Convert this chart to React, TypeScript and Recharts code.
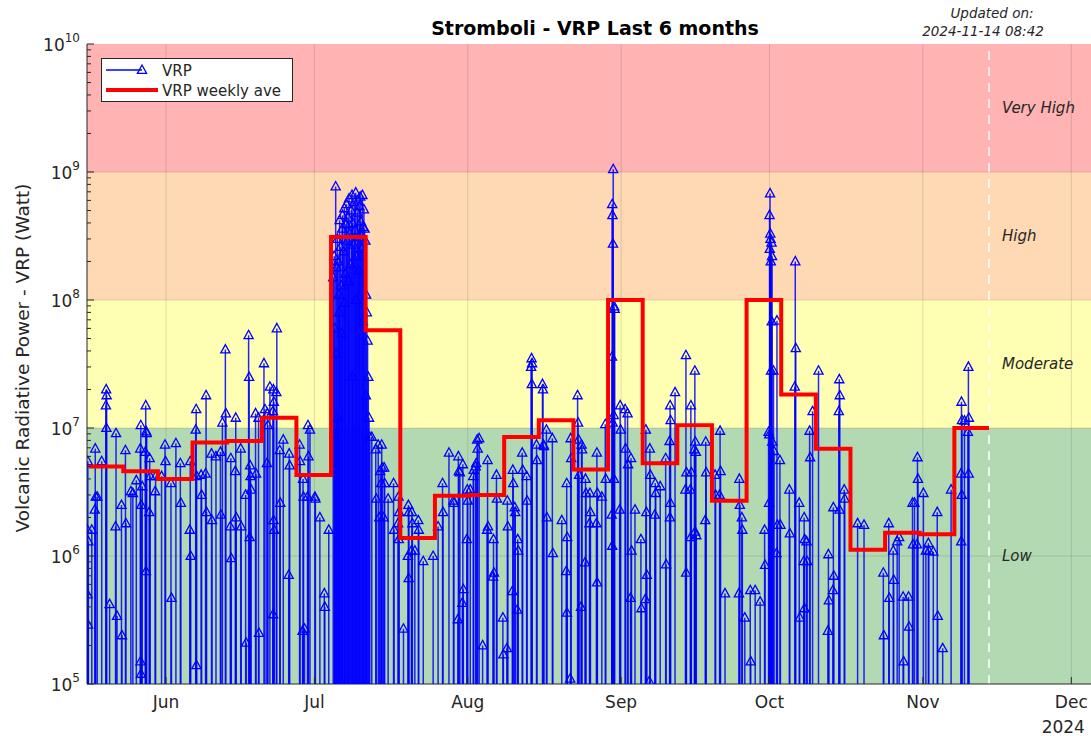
import {
  ComposedChart,
  Scatter,
  Line,
  XAxis,
  YAxis,
  ReferenceArea,
  ReferenceLine,
  Legend,
} from "recharts";

// x values are days since 2024-06-01
const FONT = "DejaVu Sans, Verdana, sans-serif";
const AXIS = "#262626";
const WIDTH = 1091;
const HEIGHT = 736;
const MARGIN = { top: 44, right: 0, bottom: 22, left: 0 };
const X_AXIS_H = 30;
const Y_AXIS_W = 87;
const PLOT_BOTTOM = HEIGHT - MARGIN.bottom - X_AXIS_H;

const xDomain = [-15.97, 186.98];
const monthTicks = [0, 30, 61, 92, 122, 153, 183];
const monthLabels = ["Jun", "Jul", "Aug", "Sep", "Oct", "Nov", "Dec"];
const yearLabel = "2024";
const decades = [1e5, 1e6, 1e7, 1e8, 1e9, 1e10];
const minorMantissa = [2, 3, 4, 5, 6, 7, 8, 9];
const updatedDay = 166.36;

const bands = [
  { from: 1e9, to: 1e10, fill: "#ffb3b3", label: "Very High" },
  { from: 1e8, to: 1e9, fill: "#ffd9b3", label: "High" },
  { from: 1e7, to: 1e8, fill: "#ffffb3", label: "Moderate" },
  { from: 1e5, to: 1e7, fill: "#b3d9b3", label: "Low" },
];

// VRP detections [day, watt]
const mayJunPoints: [number, number][] = [
  [-15.8, 5.5e6], [-15.9, 1.6e6], [-15.7, 1.3e6], [-15.85, 5.0e5], [-15.75, 2.9e5],
  [-15.0, 1.6e6], [-14.3, 6.9e6], [-14.2, 2.9e6], [-14.4, 2.3e6], [-13.9, 2.9e6],
  [-13.0, 5.5e6], [-12.1, 2.0e7], [-12.0, 1.8e7], [-12.15, 1.5e7], [-12.05, 1.0e7],
  [-11.4, 4.2e5], [-10.1, 9.1e6], [-10.2, 1.7e6], [-9.9, 3.4e5], [-9.0, 2.5e6],
  [-8.9, 2.4e5], [-8.2, 6.7e6], [-8.1, 1.8e6], [-7.1, 3.2e6], [-6.7, 3.1e6],
  [-6.0, 3.9e6], [-5.1, 1.05e7], [-5.2, 6.9e6], [-5.0, 2.5e6], [-5.15, 1.5e5],
  [-5.05, 1.2e5], [-4.8, 3.5e6], [-4.1, 1.5e7], [-4.0, 9.4e6], [-4.2, 6.5e6],
  [-4.05, 7.6e5], [-3.9, 9.1e6], [-3.3, 5.8e6], [-3.2, 4.2e6], [-3.4, 2.2e6],
  [-2.2, 3.2e6], [-2.1, 4.2e6], [-0.9, 4.2e6], [-0.2, 7.4e6], [-0.1, 5.5e6],
  [1.0, 3.7e6], [1.1, 4.7e5], [2.0, 7.6e6], [2.9, 5.3e6], [3.0, 2.6e6],
  [4.9, 5.5e6], [4.8, 1.6e6], [5.0, 1.0e6], [6.1, 1.4e7], [6.0, 9.7e6],
  [6.2, 4.2e6], [6.15, 1.4e5], [7.1, 4.3e6], [7.2, 3.0e6], [8.1, 1.8e7],
  [8.0, 4.4e6], [8.2, 2.2e6], [9.2, 6.3e6], [9.3, 1.9e6], [10.1, 6.0e6],
  [11.0, 6.5e6], [11.1, 2.1e6], [11.4, 1.1e7], [12.0, 4.1e7], [12.1, 1.3e7],
  [13.1, 5.8e6], [13.0, 1.7e6], [13.2, 9.6e5], [14.1, 1.2e7], [14.0, 4.6e6],
  [14.2, 2.0e6], [15.1, 6.9e6], [15.2, 1.7e6], [16.1, 3.0e6], [16.2, 2.1e5],
  [16.7, 5.3e7], [16.8, 2.5e7], [17.0, 5.1e6], [17.1, 4.2e6], [17.2, 3.3e6],
  [16.9, 1.4e6], [18.1, 1.3e7], [18.2, 4.4e6], [18.7, 1.2e7], [18.8, 2.5e5],
  [19.8, 3.2e7], [20.0, 1.4e7], [20.5, 1.3e7], [20.6, 1.05e7], [20.4, 5.3e6],
  [21.0, 2.1e7], [21.7, 2.0e7], [21.8, 1.6e7], [21.6, 1.35e7], [21.75, 1.9e6],
  [21.85, 1.6e6], [21.65, 3.5e5], [22.4, 6.0e7], [22.3, 1.9e7], [23.0, 6.7e6],
  [23.1, 2.6e6], [23.7, 8.1e6], [24.9, 6.3e6], [25.0, 5.1e6], [24.8, 7.1e5],
  [27.0, 7.4e6], [27.1, 5.5e6], [27.7, 4.0e6], [27.8, 2.9e6], [27.6, 2.6e5],
  [28.0, 2.7e5], [28.7, 1.05e7], [28.8, 6.0e6], [28.6, 2.9e6], [29.1, 9.7e6],
  [30.1, 2.9e6], [30.2, 2.8e6], [31.1, 2.0e6], [32.0, 5.1e5], [32.1, 4.0e5],
  [32.9, 1.6e6],
];

const julyBurst: [number, number][] = [
  [33.8, 1.5e8], [34.0, 2.2e8], [34.15, 9.0e6], [34.3, 7.7e8], [34.5, 1.8e8],
  [34.65, 3.0e8], [34.8, 2.0e8], [34.95, 1.1e8], [35.1, 4.2e8], [35.25, 2.6e8],
  [35.4, 1.3e8], [35.6, 3.6e8], [35.7, 4.6e8], [35.9, 2.4e8], [36.05, 5.2e8],
  [36.2, 1.6e8], [36.35, 3.9e8], [36.5, 5.6e8], [36.65, 2.9e8], [36.8, 4.4e8],
  [37.0, 6.2e8], [37.1, 3.3e8], [37.3, 1.9e8], [37.45, 5.0e8], [37.6, 6.6e8],
  [37.75, 4.0e8], [37.9, 2.7e8], [38.05, 5.8e8], [38.2, 3.5e8], [38.35, 6.9e8],
  [38.5, 2.2e8], [38.65, 4.8e8], [38.8, 6.0e8], [38.95, 3.1e8], [39.1, 5.4e8],
  [39.25, 6.4e8], [39.4, 4.1e8], [39.55, 2.5e8], [39.7, 6.6e8], [39.85, 3.7e8],
  [40.0, 5.1e8], [40.15, 3.6e8], [40.3, 2.9e8], [40.45, 1.1e8], [40.6, 8.0e7],
  [40.75, 4.8e7], [40.9, 2.5e7], [41.05, 1.2e7], [41.2, 8.5e6],
  [34.1, 6.0e7], [34.4, 3.8e7], [34.7, 1.2e7], [35.0, 8.0e7], [35.5, 5.5e7],
  [36.1, 9.5e7], [36.9, 1.4e8], [37.7, 2.5e7], [38.4, 1.0e8], [39.0, 1.7e8],
  [39.8, 6.8e7], [40.4, 1.8e7],
];

const julAugPoints: [number, number][] = [
  [41.6, 8.5e6], [42.4, 6.8e6], [42.9, 7.4e6], [43.3, 4.6e6], [42.5, 2.8e6], [43.1, 2.0e6],
  [43.6, 7.4e6], [43.7, 4.9e6], [43.5, 3.7e6], [44.1, 4.9e6], [44.2, 3.7e6],
  [44.0, 2.0e6], [44.9, 2.8e6], [46.0, 3.7e6], [46.1, 1.6e6], [47.0, 2.9e6],
  [47.1, 2.2e6], [46.9, 1.8e6], [47.05, 1.35e6], [48.0, 2.7e5], [49.0, 2.5e6],
  [49.1, 2.2e6], [48.9, 1.0e6], [49.05, 6.7e5], [49.7, 2.2e6], [49.8, 1.8e6],
  [49.6, 1.1e6], [50.3, 1.1e6], [51.0, 1.9e6], [51.1, 1.6e6], [52.0, 9.1e5],
  [54.0, 1.0e6], [55.0, 1.7e6], [55.9, 3.7e6], [56.0, 2.2e6], [57.2, 6.4e6],
  [58.1, 2.7e6], [58.2, 2.6e6], [59.1, 6.0e6], [59.2, 4.6e6], [59.0, 3.2e5],
  [59.4, 4.5e6], [60.0, 5.2e6], [60.1, 5.5e5], [59.9, 4.3e5], [60.9, 3.3e6],
  [61.0, 2.7e6], [60.8, 1.35e6], [61.5, 3.3e6], [62.1, 4.2e6], [62.2, 4.7e6],
  [62.6, 5.0e6], [62.7, 5.3e6], [62.9, 8.1e6], [63.0, 6.9e6], [63.3, 8.3e6],
  [64.0, 2.0e5], [65.0, 5.6e6], [65.1, 1.7e6], [64.9, 1.6e6], [66.2, 1.35e6],
  [66.3, 7.4e5], [66.1, 6.9e5], [66.8, 4.3e6], [66.9, 2.8e6], [68.1, 3.3e5],
  [68.2, 1.7e5], [69.0, 2.7e6], [69.1, 1.7e6], [68.9, 1.9e5], [70.1, 4.7e6],
  [70.2, 3.7e6], [70.0, 5.3e5], [70.5, 2.4e6], [70.6, 2.2e6], [71.1, 1.35e6],
  [71.2, 1.1e6], [71.0, 3.8e5], [72.0, 6.4e6], [72.1, 4.7e6], [72.9, 4.2e6],
  [73.0, 2.7e6], [73.9, 3.5e7], [74.0, 3.2e7], [73.8, 3.0e7], [73.95, 2.2e7],
  [74.9, 7.4e6], [75.0, 5.6e6], [76.1, 2.2e7], [76.2, 2.0e7], [76.3, 7.4e6],
  [76.4, 7.2e6], [76.9, 9.7e6], [77.0, 2.0e6], [78.1, 8.3e6], [78.2, 1.05e6],
  [80.0, 1.9e6], [81.0, 3.7e6], [81.1, 1.4e6], [80.9, 7.6e5], [81.05, 3.6e5],
  [81.8, 8.3e6], [81.9, 5.8e6], [81.7, 1.1e5], [83.2, 1.8e7], [83.3, 1.1e7],
  [83.4, 8.1e6], [83.5, 4.3e6], [84.0, 7.4e6], [84.1, 6.8e6], [83.9, 4.0e5],
  [84.8, 4.0e6], [84.9, 3.1e6], [84.7, 8.9e5], [85.7, 3.1e6], [85.8, 2.2e6],
  [85.6, 1.8e6], [87.1, 6.4e6], [87.2, 3.1e6], [87.0, 1.8e6], [87.15, 6.2e5],
  [88.1, 2.9e6], [88.8, 1.07e7], [88.9, 4.0e6], [90.1, 2.1e6], [90.2, 1.2e6],
];

const sepOctPoints: [number, number][] = [
  [90.4, 1.05e9], [90.2, 5.6e8], [90.25, 4.6e8], [90.35, 2.75e8], [90.6, 8.9e7],
  [90.7, 8.5e7], [90.15, 3.6e7], [90.5, 1.26e7], [90.55, 4.0e6], [90.3, 1.1e7],
  [91.8, 1.5e7], [91.9, 9.7e6], [91.7, 2.3e6], [92.8, 1.4e7], [92.9, 6.9e6],
  [93.3, 1.3e7], [93.4, 5.2e6], [94.0, 5.8e6], [94.1, 1.1e6], [93.9, 4.7e5],
  [94.8, 2.3e6], [96.0, 1.35e6], [96.1, 3.9e5], [97.0, 9.7e6], [97.1, 2.2e6],
  [96.9, 4.6e5], [97.2, 7.1e5], [97.8, 6.9e6], [97.9, 4.3e6], [97.7, 1.05e5],
  [98.9, 3.7e6], [99.0, 3.1e6], [98.8, 2.1e6], [99.9, 3.5e6], [101.0, 5.8e6],
  [101.1, 8.6e5], [101.9, 1.5e7], [102.0, 1.15e7], [101.8, 7.9e6], [101.95, 2.6e6],
  [101.85, 2.0e6], [102.9, 1.9e7],
  [105.1, 3.7e7], [105.2, 4.5e6], [105.0, 3.3e6], [105.15, 7.4e5], [106.1, 1.5e7],
  [106.2, 4.5e6], [106.0, 3.3e6], [106.05, 1.4e6], [106.9, 2.8e7], [107.0, 7.8e6],
  [106.8, 6.8e6], [106.95, 1.55e6], [107.1, 6.5e6], [107.2, 1.45e6], [109.1, 7.8e6],
  [109.2, 4.5e6], [109.0, 1.9e6], [111.0, 4.3e6], [111.1, 3.0e6], [112.0, 9.5e6],
  [112.1, 4.6e6], [111.9, 3.0e6], [113.0, 5.1e5], [115.9, 4.0e6], [116.0, 2.5e6],
  [115.8, 5.1e5], [116.4, 2.0e6], [116.5, 1.6e6], [117.0, 3.3e5], [118.1, 5.4e5],
  [118.2, 1.5e5], [119.1, 5.4e5], [120.1, 4.4e5], [121.0, 1.6e6], [121.1, 8.5e5],
  [121.8, 9.3e6], [121.9, 2.6e6], [122.1, 6.8e8], [122.0, 4.6e8], [122.15, 3.3e8],
  [122.2, 3.0e8], [122.05, 2.5e8], [122.25, 2.0e8], [122.3, 2.8e7], [121.95, 8.9e6],
  [122.4, 2.8e8], [122.5, 2.2e8], [122.45, 6.8e7], [122.55, 7.8e6], [122.8, 2.8e7],
  [122.9, 6.6e6], [123.5, 6.9e7], [123.6, 1.75e6], [123.4, 1.05e6], [124.1, 5.6e6],
  [124.2, 1.75e6], [126.0, 3.3e6], [126.1, 1.5e6], [127.2, 2.0e8], [127.3, 4.2e7],
  [127.1, 2.1e7], [128.0, 2.6e6], [128.1, 3.3e5], [129.0, 2.0e6], [129.1, 1.35e6],
  [128.9, 9.1e5], [129.05, 3.9e5], [129.5, 1.3e6], [129.6, 9.1e5], [130.1, 9.5e6],
  [130.2, 5.9e6], [130.7, 1.35e7], [131.9, 2.8e7],
];

const novPoints: [number, number][] = [
  [133.9, 1.03e6], [134.0, 4.5e5], [133.8, 2.6e5], [134.9, 2.4e6], [135.0, 7.0e5],
  [134.8, 5.4e5], [136.1, 2.4e7], [136.2, 1.8e7], [136.0, 1.35e7], [136.15, 2.3e6],
  [137.1, 3.3e6], [137.2, 2.8e6], [139.8, 1.8e6], [141.1, 1.75e6],
  [145.0, 7.4e5], [145.1, 2.4e5], [146.1, 1.8e6], [146.2, 4.7e5], [147.0, 1.1e6],
  [147.1, 6.5e5], [147.8, 1.3e6], [148.2, 1.4e6], [149.0, 4.8e5], [149.1, 1.5e5],
  [150.1, 4.8e5], [150.2, 2.8e5], [150.9, 2.6e6], [151.0, 1.23e6], [151.3, 2.6e6],
  [151.9, 5.9e6], [152.0, 4.0e6], [151.8, 1.23e6], [153.1, 3.1e6], [153.6, 1.1e6],
  [154.1, 1.26e6], [154.2, 1.1e6], [155.1, 1.08e6], [155.9, 2.2e6], [156.0, 3.4e5],
  [157.0, 1.9e5], [158.7, 3.3e6], [160.8, 1.6e7], [160.9, 1.15e7], [160.7, 4.4e6],
  [160.85, 3.0e6], [160.75, 1.3e6], [161.4, 1.14e7], [162.2, 3.0e7], [162.3, 1.2e7],
  [162.1, 9.3e6], [162.25, 4.4e6],
];

// weekly average: week start day and mean VRP
const weekStarts = [
  -15.64, -8.64, -1.64, 5.36, 12.36, 19.36, 26.36, 33.36, 40.36, 47.36, 54.36, 61.36, 68.36,
  75.36, 82.36, 89.36, 96.36, 103.36, 110.36, 117.36, 124.36, 131.36, 138.36, 145.36, 152.36,
  159.36,
];
const weeklyAve = [
  5.0e6, 4.6e6, 4.0e6, 7.7e6, 7.9e6, 1.2e7, 4.3e6, 3.1e8, 5.8e7, 1.38e6, 2.96e6, 3.0e6, 8.5e6,
  1.15e7, 4.75e6, 1.0e8, 5.3e6, 1.05e7, 2.7e6, 1.0e8, 1.83e7, 6.9e6, 1.12e6, 1.52e6, 1.48e6,
  1.0e7,
];

const vrpRows = [...mayJunPoints, ...julyBurst, ...julAugPoints, ...sepOctPoints, ...novPoints].map(
  ([day, v]) => ({ day, v })
);
const weeklyRows = [
  ...weekStarts.map((day, i) => ({ day, v: weeklyAve[i] })),
  { day: updatedDay, v: weeklyAve[weeklyAve.length - 1] },
];

const yTicks: number[] = [];
decades.forEach((d, i) => {
  yTicks.push(d);
  if (i < decades.length - 1) minorMantissa.forEach((m) => yTicks.push(m * d));
});

function StemLine(props: any) {
  const { cx, cy } = props;
  if (cx == null || cy == null) return null;
  return (
    <line x1={cx} y1={cy} x2={cx} y2={PLOT_BOTTOM} stroke="#0000ff" strokeWidth={1.5} strokeOpacity={0.85} />
  );
}

function TriangleMarker(props: any) {
  const { cx, cy } = props;
  if (cx == null || cy == null) return null;
  return (
    <polygon
      points={`${cx},${cy - 5} ${cx - 4.6},${cy + 3.4} ${cx + 4.6},${cy + 3.4}`}
      fill="none"
      stroke="#0000ff"
      strokeWidth={1.3}
    />
  );
}

function YTick(props: any) {
  const { x, y, payload } = props;
  const lg = Math.log10(payload.value);
  const exp = Math.round(lg);
  const major = Math.abs(lg - exp) < 1e-6;
  const axisX = x + 6;
  return (
    <g>
      <line x1={axisX} y1={y} x2={axisX + (major ? 7 : 4)} y2={y} stroke={AXIS} strokeWidth={1} />
      {major && (
        <text x={x - 1} y={y + 7} textAnchor="end" fill={AXIS} fontFamily={FONT} fontSize={17}>
          10
          <tspan dy={-9} fontSize={12}>
            {exp}
          </tspan>
        </text>
      )}
    </g>
  );
}

function BottomTick(props: any) {
  const { x, y, payload } = props;
  const i = monthTicks.indexOf(payload.value);
  return (
    <g>
      <line x1={x} y1={y} x2={x} y2={y - 7} stroke={AXIS} strokeWidth={1} />
      <text x={x} y={y + 24} textAnchor="middle" fill={AXIS} fontFamily={FONT} fontSize={17}>
        {monthLabels[i]}
      </text>
      {i === monthTicks.length - 1 && (
        <text x={x - 8} y={y + 49} textAnchor="middle" fill={AXIS} fontFamily={FONT} fontSize={17}>
          {yearLabel}
        </text>
      )}
    </g>
  );
}

function TopTick(props: any) {
  const { x, y } = props;
  return <line x1={x} y1={y} x2={x} y2={y + 7} stroke={AXIS} strokeWidth={1} />;
}

const bandLabel = (text: string) => (props: any) => {
  const vb = props.viewBox;
  if (!vb) return null;
  return (
    <text
      x={vb.x + vb.width - 89}
      y={vb.y + vb.height / 2 + 5}
      fill={AXIS}
      fontFamily={FONT}
      fontSize={15}
      fontStyle="italic"
    >
      {text}
    </text>
  );
};

function LegendBox() {
  return (
    <svg width={193} height={45} style={{ display: "block" }}>
      <rect x={0.5} y={0.5} width={191} height={43} fill="#ffffff" stroke={AXIS} strokeWidth={1} />
      <line x1={5} y1={12} x2={41} y2={12} stroke="#0000ff" strokeWidth={1.3} />
      <polygon points="41,7 36.4,15.4 45.6,15.4" fill="none" stroke="#0000ff" strokeWidth={1.3} />
      <text x={61} y={18} fill={AXIS} fontFamily={FONT} fontSize={15}>
        VRP
      </text>
      <line x1={5} y1={32} x2={57} y2={32} stroke="#ff0000" strokeWidth={4} />
      <text x={61} y={38} fill={AXIS} fontFamily={FONT} fontSize={15}>
        VRP weekly ave
      </text>
    </svg>
  );
}

export default function App() {
  return (
    <div style={{ position: "absolute", left: 0, top: 0, width: WIDTH, height: HEIGHT, background: "#ffffff" }}>
      <ComposedChart width={WIDTH} height={HEIGHT} margin={MARGIN}>
        <XAxis
          dataKey="day"
          type="number"
          domain={xDomain}
          allowDataOverflow
          ticks={monthTicks}
          interval={0}
          height={X_AXIS_H}
          tickSize={0}
          tickMargin={0}
          tick={<BottomTick />}
          axisLine={{ stroke: AXIS, strokeWidth: 1 }}
        />
        <XAxis
          xAxisId="top"
          orientation="top"
          dataKey="day"
          type="number"
          domain={xDomain}
          allowDataOverflow
          ticks={monthTicks}
          interval={0}
          height={0}
          tickSize={0}
          tickMargin={0}
          tick={<TopTick />}
          axisLine={{ stroke: AXIS, strokeWidth: 1 }}
        />
        <YAxis
          dataKey="v"
          scale="log"
          type="number"
          domain={[1e5, 1e10]}
          allowDataOverflow
          ticks={yTicks}
          interval={0}
          width={Y_AXIS_W}
          tickSize={0}
          tickMargin={6}
          tick={<YTick />}
          axisLine={{ stroke: AXIS, strokeWidth: 1 }}
        />
        {bands.map((b) => (
          <ReferenceArea
            key={b.label}
            y1={b.from}
            y2={b.to}
            fill={b.fill}
            fillOpacity={1}
            stroke="none"
            ifOverflow="hidden"
            label={bandLabel(b.label)}
          />
        ))}
        {decades.slice(1, -1).map((d) => (
          <ReferenceLine key={"h" + d} y={d} stroke={AXIS} strokeOpacity={0.15} strokeWidth={1} />
        ))}
        {monthTicks.map((m) => (
          <ReferenceLine key={"v" + m} x={m} stroke={AXIS} strokeOpacity={0.15} strokeWidth={1} />
        ))}
        <ReferenceLine x={updatedDay} stroke="#ffffff" strokeWidth={1.5} strokeDasharray="9 7" />
        <Legend
          layout="horizontal"
          verticalAlign="middle"
          align="center"
          content={() => <LegendBox />}
          wrapperStyle={{ position: "absolute", left: 101, top: 58, width: 193, height: 45 }}
        />
        <Scatter name="VRP stems" data={vrpRows} shape={<StemLine />} isAnimationActive={false} />
        <Scatter name="VRP" data={vrpRows} shape={<TriangleMarker />} isAnimationActive={false} />
        <Line
          name="VRP weekly ave"
          data={weeklyRows}
          dataKey="v"
          type="stepAfter"
          stroke="#ff0000"
          strokeWidth={4}
          dot={false}
          activeDot={false}
          isAnimationActive={false}
          zIndex={700}
        />
      </ComposedChart>
      <svg
        width={WIDTH}
        height={HEIGHT}
        style={{ position: "absolute", left: 0, top: 0, pointerEvents: "none" }}
      >
        <text x={595} y={35} textAnchor="middle" fontFamily={FONT} fontSize={19} fontWeight="bold" fill="#000000">
          Stromboli - VRP Last 6 months
        </text>
        <text x={992} y={18} textAnchor="middle" fontFamily={FONT} fontSize={13.5} fontStyle="italic" fill={AXIS}>
          Updated on:
        </text>
        <text x={983} y={36} textAnchor="middle" fontFamily={FONT} fontSize={13.5} fontStyle="italic" fill={AXIS}>
          2024-11-14 08:42
        </text>
        <text
          x={0}
          y={0}
          transform="translate(29 358) rotate(-90)"
          textAnchor="middle"
          fontFamily={FONT}
          fontSize={18.5}
          fill={AXIS}
        >
          Volcanic Radiative Power - VRP (Watt)
        </text>
      </svg>
    </div>
  );
}
